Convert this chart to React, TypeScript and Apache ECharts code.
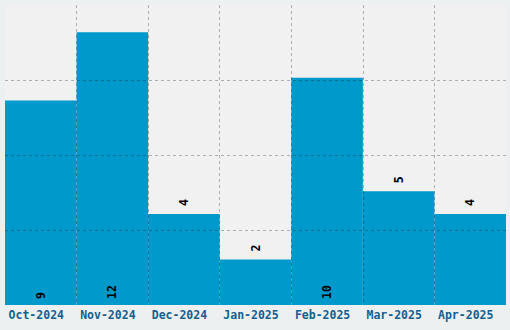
import React, { useEffect, useRef } from "react";
import * as echarts from "echarts";

const categories = ["Oct-2024", "Nov-2024", "Dec-2024", "Jan-2025", "Feb-2025", "Mar-2025", "Apr-2025"];
const values = [9, 12, 4, 2, 10, 5, 4];
const yMax = 13.2;
const yInterval = 3.3;

const FONT = "'DejaVu Sans Mono', 'Liberation Mono', monospace";

export default function App() {
  const ref = useRef<HTMLDivElement>(null);
  useEffect(() => {
    if (!ref.current) return;
    const chart = echarts.init(ref.current, null, { renderer: "svg" });
    const gridLine = {
      show: true,
      showMinLine: false,
      showMaxLine: false,
      lineStyle: { color: "rgba(0,0,0,0.28)", width: 1, type: [3, 3] as any },
    };
    chart.setOption({
      animation: false,
      backgroundColor: "#edf0f1",
      grid: {
        left: 5,
        right: 4,
        top: 5,
        bottom: 25,
        show: true,
        backgroundColor: "#f1f1f1",
        borderWidth: 0,
      },
      xAxis: {
        type: "category",
        data: categories,
        z: 5,
        axisLine: { show: false },
        axisTick: { show: false },
        splitLine: { ...gridLine, interval: 0 },
        axisLabel: {
          interval: 0,
          color: "#165e8e",
          fontFamily: FONT,
          fontWeight: "bold",
          fontSize: 11.5,
          margin: 4,
          padding: [0, 9, 0, 0],
        },
      },
      yAxis: {
        type: "value",
        min: 0,
        max: yMax,
        interval: yInterval,
        z: 5,
        axisLine: { show: false },
        axisTick: { show: false },
        axisLabel: { show: false },
        splitLine: gridLine,
      },
      series: [
        {
          type: "bar",
          barCategoryGap: 0,
          barGap: 0,
          itemStyle: { color: "#0099cb" },
          data: values.map((v) => ({
            value: v,
            label: {
              show: true,
              position: v >= 8 ? "insideBottom" : "top",
              distance: v >= 8 ? 6 : 8,
              rotate: 90,
              align: "left",
              verticalAlign: "middle",
              color: "#000",
              fontFamily: FONT,
              fontWeight: "bold",
              fontSize: 11.5,
            },
          })),
        },
      ],
    });
    return () => chart.dispose();
  }, []);
  return <div ref={ref} style={{ width: 510, height: 330, position: "absolute", left: 0, top: 0 }} />;
}
